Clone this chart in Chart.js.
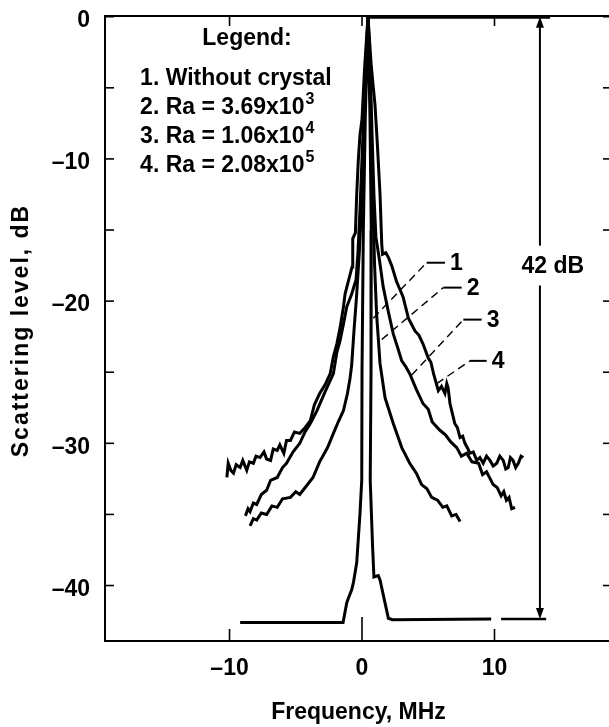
<!DOCTYPE html>
<html>
<head>
<meta charset="utf-8">
<script src="https://cdn.jsdelivr.net/npm/chart.js@4.4.1/dist/chart.umd.min.js"></script>
<style>
  html, body { margin: 0; padding: 0; background: #fff; overflow: hidden; }
  #wrap { width: 618px; height: 727px; }
</style>
</head>
<body>
<div id="wrap"><canvas id="chart" width="618" height="727" style="width:618px;height:727px"></canvas></div>
<script>
// [frequency MHz, scattering level dB]
const withoutCrystal = [
  [-9.2, -42.6], [-1.43, -42.6], [-1.15, -41.2], [-1.03, -40.9], [-0.78, -40.3], [-0.65, -39.8],
  [-0.4, -38.4], [-0.15, -34.9], [-0.02, -32.6], [0.0, -25.0], [0.1, -15.0], [0.25, -7.0], [0.45, 0],
  [0.6, -7.0], [0.7, -15.0], [0.68, -25.0], [0.62, -32.6], [0.8, -37.3], [0.9, -39.4], [1.23, -39.3],
  [1.36, -39.6], [1.99, -42.3], [2.3, -42.4], [9.75, -42.35],
];

const ra369e3 = [
  [-8.45, -35.8], [-8.2, -35.3], [-7.95, -35.4], [-7.6, -34.9], [-7.2, -35.0], [-6.8, -34.4], [-6.4, -34.5],
  [-6.0, -33.9], [-5.4, -33.8], [-5.0, -33.4], [-4.7, -33.6], [-4.2, -33.0], [-3.7, -32.4], [-3.2, -31.3],
  [-2.6, -30.3], [-2.16, -29.3], [-1.8, -28.5], [-1.4, -27.7], [-1.1, -26.5], [-0.9, -25.4], [-0.78, -24.5],
  [-0.6, -22.0], [-0.4, -19.5], [-0.2, -16.5], [0.0, -12.5], [0.15, -8.0], [0.3, -4.0], [0.45, 0],
  [0.6, -4.0], [0.72, -9.0], [0.85, -14.0], [0.95, -17.5], [1.1, -20.9], [1.36, -24.4], [1.74, -26.8],
  [2.36, -28.6], [3.0, -30.3], [3.6, -31.4], [4.1, -32.1], [4.5, -32.9], [4.9, -33.2], [5.26, -33.8],
  [5.7, -34.0], [6.1, -34.5], [6.4, -34.4], [6.77, -35.1], [7.1, -35.0], [7.4, -35.5],
];

const ra106e4 = [
  [-8.8, -35.1], [-8.6, -34.6], [-8.45, -34.8], [-8.2, -34.2], [-7.95, -34.3], [-7.6, -33.6], [-7.2, -33.3],
  [-6.9, -32.6], [-6.4, -32.4], [-6.0, -31.7], [-5.7, -31.4], [-5.2, -30.6], [-4.7, -30.0], [-4.3, -29.2],
  [-3.9, -28.6], [-3.4, -27.7], [-2.8, -26.4], [-2.16, -25.1], [-1.9, -23.6], [-1.66, -22.8], [-1.4, -21.6],
  [-1.15, -20.4], [-0.78, -19.5], [-0.45, -18.5], [-0.3, -16.5], [-0.15, -13.5], [0.0, -10.0], [0.15, -6.5],
  [0.3, -3.0], [0.45, 0],
  [0.6, -3.0], [0.75, -8.0], [0.9, -12.5], [1.05, -15.5], [1.3, -17.0], [1.6, -19.0], [2.0, -20.8],
  [2.36, -22.3], [2.7, -23.3], [3.0, -24.2], [3.3, -24.6], [3.6, -25.1], [4.1, -26.2], [4.6, -27.2],
  [5.0, -27.6], [5.3, -28.5], [5.9, -29.1], [6.3, -29.4], [6.7, -29.9], [7.15, -30.3], [7.5, -30.9],
  [7.9, -30.7], [8.3, -31.3], [8.8, -31.4], [9.1, -32.2], [9.4, -32.0], [9.9, -32.9], [10.2, -33.1],
  [10.5, -33.7], [10.7, -33.4], [10.9, -34.0], [11.1, -33.8], [11.3, -34.6], [11.55, -34.5],
];

const ra208e5 = [
  [-10.2, -32.4], [-10.1, -31.4], [-9.9, -31.9], [-9.7, -32.1], [-9.5, -31.5], [-9.2, -31.7], [-9.0, -31.2],
  [-8.7, -31.9], [-8.5, -31.3], [-8.2, -31.4], [-8.0, -30.9], [-7.7, -31.0], [-7.4, -30.6], [-7.2, -31.1],
  [-6.9, -31.2], [-6.7, -30.4], [-6.4, -30.5], [-6.2, -30.1], [-5.9, -30.7], [-5.7, -29.8], [-5.4, -29.8],
  [-5.1, -29.2], [-4.7, -29.3], [-4.3, -28.9], [-3.9, -28.4], [-3.6, -27.3], [-3.2, -26.5], [-2.8, -25.9],
  [-2.4, -25.1], [-2.16, -23.9], [-1.9, -23.0], [-1.66, -21.9], [-1.4, -20.4], [-1.28, -19.5], [-1.03, -18.6],
  [-0.75, -17.6], [-0.7, -15.6], [-0.5, -15.2], [-0.4, -12.5], [-0.28, -10.1], [-0.15, -8.3], [0.0, -7.2],
  [0.2, -3.5], [0.45, 0],
  [0.7, -3.5], [0.98, -6.2], [1.16, -9.0], [1.36, -12.5], [1.49, -16.0], [1.55, -16.7], [1.8, -16.6],
  [1.98, -16.9], [2.24, -17.5], [2.6, -18.6], [3.1, -19.7], [3.5, -21.2], [4.0, -22.1], [4.3, -22.4],
  [4.6, -23.0], [5.0, -24.0], [5.2, -24.3], [5.4, -25.1], [5.76, -26.3], [6.0, -26.0], [6.26, -26.5],
  [6.4, -25.8], [6.5, -26.1], [6.64, -27.2], [7.0, -28.6], [7.2, -28.9], [7.4, -29.6], [7.6, -29.5],
  [7.77, -30.0], [8.0, -30.4], [8.15, -30.7], [8.4, -30.6], [8.66, -31.2], [8.9, -31.0], [9.15, -31.4],
  [9.4, -30.9], [9.66, -31.2], [9.9, -31.6], [10.17, -31.4], [10.4, -30.9], [10.66, -31.2], [10.85, -31.8],
  [11.04, -31.7], [11.2, -31.0], [11.4, -31.2], [11.6, -31.7], [11.8, -31.4], [12.0, -30.9], [12.17, -31.0],
];

// 0 dB and floor reference marks for the 42 dB span
const topRef = [[0.45, 0], [14.2, 0]];
const floorRef = [[10.5, -42.35], [13.9, -42.35]];
const spanDb = 42;

const xTicks = [-10, 0, 10];
const yTicks = [0, -5, -10, -15, -20, -25, -30, -35, -40];

const legendTitle = 'Legend:';
const legendItems = ['1. Without crystal', '2. Ra = 3.69x10', '3. Ra = 1.06x10', '4. Ra = 2.08x10'];
const legendExps = ['', '3', '4', '5'];
const curveTags = ['1', '2', '3', '4'];
const yTitle = 'Scattering level, dB';

const FAMILY = '"Liberation Sans", Arial, Helvetica, sans-serif';
const FONT = 'bold 23px ' + FAMILY;
const SUP_FONT = 'bold 16px ' + FAMILY;

const toXY = pts => pts.map(([x, y]) => ({ x, y }));

const curve = (data, width = 3) => ({
  data: toXY(data),
  borderColor: '#000',
  borderWidth: width,
  pointRadius: 0,
  tension: 0,
  fill: false,
});

// leader lines: curve point -> knee -> end of short horizontal, data units
const leaders = [
  { from: [0.85, -21.2], knee: [4.88, -17.3], end: [6.26, -17.3] },
  { from: [1.49, -22.7], knee: [6.14, -19.05], end: [7.52, -19.05] },
  { from: [3.75, -25.2], knee: [7.65, -21.3], end: [9.03, -21.3] },
  { from: [5.64, -25.8], knee: [8.15, -24.2], end: [9.41, -24.2] },
];

const annotate = {
  id: 'annotate',
  afterDatasetsDraw(chart) {
    const { ctx, chartArea: a, scales: { x, y } } = chart;
    const seg = (x1, y1, x2, y2) => {
      ctx.beginPath();
      ctx.moveTo(x1, y1);
      ctx.lineTo(x2, y2);
      ctx.stroke();
    };
    ctx.save();
    ctx.strokeStyle = '#000';
    ctx.fillStyle = '#000';
    ctx.lineCap = 'butt';

    // frame
    ctx.lineWidth = 2;
    ctx.strokeRect(a.left, a.top, a.right - a.left, a.bottom - a.top);

    // inward tick marks
    ctx.lineWidth = 1.6;
    yTicks.forEach(v => {
      const py = y.getPixelForValue(v);
      seg(a.left, py, a.left + 9, py);
      seg(a.right, py, a.right - 9, py);
    });
    xTicks.forEach(v => {
      const px = x.getPixelForValue(v);
      seg(px, a.bottom, px, a.bottom - (v === 0 ? 24 : 12));
      seg(px, a.top, px, a.top + 10);
    });

    // 42 dB double arrow with a gap for its label
    const ax = x.getPixelForValue(13.43);
    const aTop = y.getPixelForValue(topRef[0][1]);
    const aBot = y.getPixelForValue(floorRef[0][1]);
    ctx.lineWidth = 2;
    seg(ax, aTop + 8, ax, y.getPixelForValue(-16.1));
    seg(ax, y.getPixelForValue(-18.9), ax, aBot - 8);
    ctx.beginPath();
    ctx.moveTo(ax, aTop); ctx.lineTo(ax - 4, aTop + 11); ctx.lineTo(ax + 4, aTop + 11); ctx.closePath();
    ctx.fill();
    ctx.beginPath();
    ctx.moveTo(ax, aBot); ctx.lineTo(ax - 4, aBot - 11); ctx.lineTo(ax + 4, aBot - 11); ctx.closePath();
    ctx.fill();
    ctx.font = FONT;
    ctx.textAlign = 'center';
    ctx.textBaseline = 'middle';
    ctx.fillText(spanDb + ' dB', x.getPixelForValue(14.4), y.getPixelForValue(-17.6));

    // curve tags with dashed leaders
    leaders.forEach((l, i) => {
      const [fx, fy] = [x.getPixelForValue(l.from[0]), y.getPixelForValue(l.from[1])];
      const [kx, ky] = [x.getPixelForValue(l.knee[0]), y.getPixelForValue(l.knee[1])];
      const ex = x.getPixelForValue(l.end[0]);
      ctx.lineWidth = 1.4;
      ctx.setLineDash([8, 5]);
      seg(fx, fy, kx, ky);
      ctx.setLineDash([]);
      ctx.lineWidth = 2;
      seg(kx, ky, ex, ky);
      ctx.textAlign = 'left';
      ctx.fillText(curveTags[i], ex + 5, ky + 1);
    });

    // legend block
    ctx.textAlign = 'center';
    ctx.fillText(legendTitle, x.getPixelForValue(-8.68), y.getPixelForValue(-1.55));
    ctx.textAlign = 'left';
    const lx = x.getPixelForValue(-16.75);
    legendItems.forEach((t, i) => {
      const py = y.getPixelForValue(-4.35 - 2.05 * i);
      ctx.font = FONT;
      ctx.fillText(t, lx, py);
      if (legendExps[i]) {
        const w = ctx.measureText(t).width;
        ctx.font = SUP_FONT;
        ctx.fillText(legendExps[i], lx + w + 1, py - 8);
      }
    });

    // y axis title (widely tracked in the original)
    ctx.font = FONT;
    ctx.textAlign = 'center';
    ctx.translate(22, (a.top + a.bottom) / 2 + 2);
    ctx.rotate(-Math.PI / 2);
    if ('letterSpacing' in ctx) ctx.letterSpacing = '2px';
    ctx.fillText(yTitle, 0, 0);
    ctx.restore();
  },
};

const dash = v => (v < 0 ? '\u2013' + Math.abs(v) : String(v));
const tickFont = { family: FAMILY, size: 23, weight: 'bold' };

new Chart(document.getElementById('chart'), {
  type: 'line',
  data: {
    datasets: [
      curve(withoutCrystal),
      curve(ra369e3),
      curve(ra106e4),
      curve(ra208e5),
      curve(topRef, 4),
      curve(floorRef, 2.4),
    ],
  },
  options: {
    responsive: false,
    animation: false,
    events: [],
    layout: { padding: { left: 0, top: 16, right: 6, bottom: 0 } },
    plugins: { legend: { display: false }, tooltip: { enabled: false } },
    scales: {
      x: {
        type: 'linear',
        min: -19.4,
        max: 18.87,
        grid: { display: false, drawTicks: false },
        border: { display: false },
        afterBuildTicks: s => { s.ticks = xTicks.map(value => ({ value })); },
        afterFit: s => { s.height = 86; s.paddingLeft = 0; s.paddingRight = 0; },
        ticks: {
          padding: 14,
          color: '#000',
          font: tickFont,
          callback: v => dash(v),
        },
        title: {
          display: true,
          text: 'Frequency, MHz',
          color: '#000',
          font: tickFont,
          padding: { top: 0, bottom: 1 },
        },
      },
      y: {
        type: 'linear',
        min: -43.9,
        max: 0.05,
        grid: { display: false, drawTicks: false },
        border: { display: false },
        afterBuildTicks: s => { s.ticks = yTicks.map(value => ({ value })); },
        afterFit: s => { s.width = 105; s.paddingTop = 0; s.paddingBottom = 0; },
        ticks: {
          padding: 15,
          labelOffset: 4,
          color: '#000',
          font: tickFont,
          callback: v => (v % 10 === 0 ? dash(v) : ''),
        },
      },
    },
  },
  plugins: [annotate],
});
</script>
</body>
</html>
